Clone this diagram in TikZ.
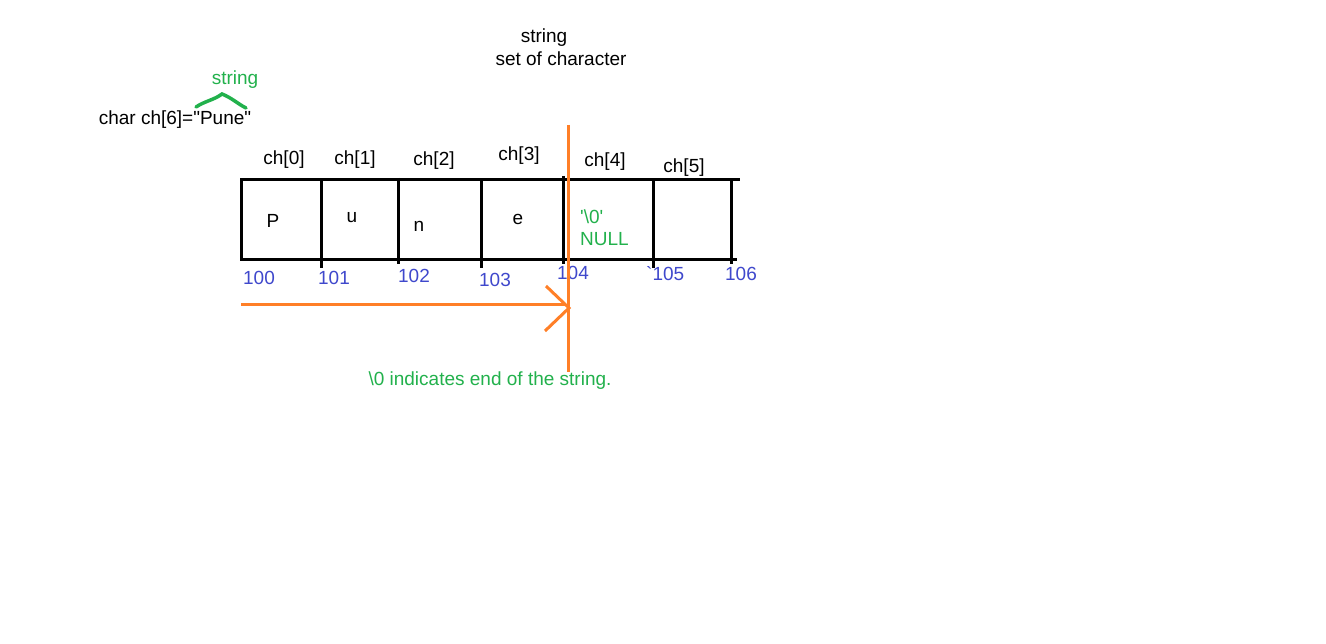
\documentclass[tikz,border=0pt]{standalone}
\usepackage{fontspec}
\setmainfont{Liberation Sans}[Ligatures=TeXOff]
\definecolor{paintorange}{HTML}{FF7F27}
\definecolor{paintgreen}{HTML}{22B14C}
\definecolor{paintblue}{HTML}{3F48CC}
\begin{document}
\begin{tikzpicture}[x=1pt,y=-1pt,
  lbl/.style={inner sep=0pt,font=\fontsize{19}{22}\selectfont},
  glbl/.style={lbl,text=paintgreen},
  blbl/.style={lbl,text=paintblue},
  cellline/.style={line width=3pt,black},
  oline/.style={line width=3pt,paintorange}]
\useasboundingbox[fill=white] (0,0) rectangle (1326,644);
% top text
\node[lbl] (s1) at (544,38) {string};
\node[lbl] (s2) at (561,59) {set of character};
\node[glbl] (gs) at (235,80) {string};
\node[lbl] (decl) at (175,120) {char ch[6]="Pune"};
\draw[line width=3.5pt,paintgreen,line cap=round] (196,107) .. controls (205,101) and (214,100) .. (222,94) .. controls (232,98) and (238,104) .. (246,108);
% box lines
\coordinate (tl) at (240,180); \coordinate (tr) at (740,180);
\coordinate (bl) at (240,260); \coordinate (br) at (737,260);
\draw[cellline] (tl) -- (tr);
\draw[cellline] (bl) -- (br);
\draw[cellline] (241,180) -- (241,260);
\draw[cellline] (321,180) -- (321,268);
\draw[cellline] (398,178) -- (398,264);
\draw[cellline] (481,180) -- (481,268);
\draw[cellline] (563,176) -- (563,264);
\draw[cellline] (653,180) -- (653,268);
\draw[cellline] (731,180) -- (731,264);
% index labels
\node[lbl] (c0) at (284,160) {ch[0]};
\node[lbl] (c1) at (355,160) {ch[1]};
\node[lbl] (c2) at (434,161) {ch[2]};
\node[lbl] (c3) at (519,156) {ch[3]};
\node[lbl] (c4) at (605,162) {ch[4]};
\node[lbl] (c5) at (684,168) {ch[5]};
% contents
\node[lbl] (vP) at (273,221) {P};
\node[lbl] (vu) at (352,218) {u};
\node[lbl] (vn) at (419,226) {n};
\node[lbl] (ve) at (518,219) {e};
\node[glbl,anchor=west] (v0) at (580,217) {'\textbackslash0'};
\node[glbl,anchor=west] (vnull) at (580,239) {NULL};
% addresses
\node[blbl] (a0) at (259,278) {100};
\node[blbl] (a1) at (334,278) {101};
\node[blbl] (a2) at (414,276) {102};
\node[blbl] (a3) at (495,280) {103};
\node[blbl] (a4) at (573,273) {104};
\node[blbl,anchor=west] (a5) at (646,274) {`105};
\node[blbl] (a6) at (741,274) {106};
% orange marker
\coordinate (ot) at (568,125); \coordinate (ob) at (568,372);
\draw[oline] (ot) -- (ob);
\coordinate (as) at (241,305); \coordinate (ae) at (569,308);
\draw[oline] (as) -- (566,305);
\draw[oline] (546,286) -- (ae) -- (545,331);
\node[glbl] (note) at (490,381) {\textbackslash0 indicates end of the string.};
\end{tikzpicture}
\end{document}
